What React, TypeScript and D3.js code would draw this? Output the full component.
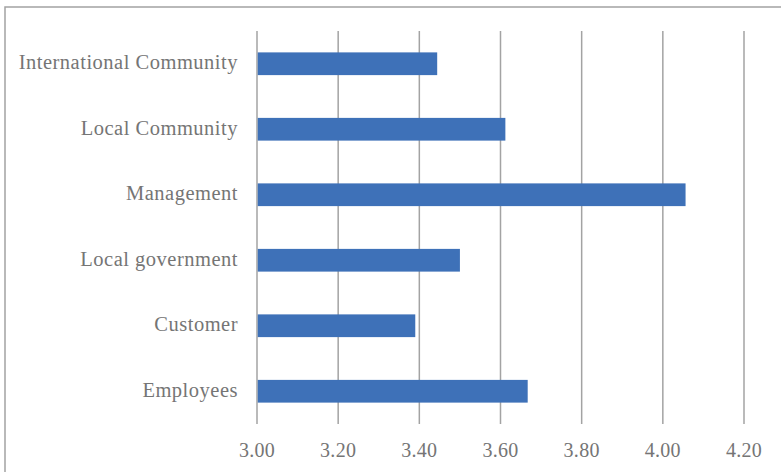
import React from "react";
import * as d3 from "d3";

const categories = [
  "International Community",
  "Local Community",
  "Management",
  "Local government",
  "Customer",
  "Employees",
];
const values = [3.444, 3.612, 4.056, 3.5, 3.39, 3.667];
const ticks = [3.0, 3.2, 3.4, 3.6, 3.8, 4.0, 4.2];

const W = 781;
const H = 472;
const plot = { left: 257, right: 744, top: 31, bottom: 424 };
const FONT = "'Liberation Serif', 'Times New Roman', serif";
const TEXT = "#757575";
const GRID = "#a3a3a3";
const BAR = "#3e71b8";

export default function App() {
  const x = d3.scaleLinear().domain([3.0, 4.2]).range([plot.left, plot.right]);
  const y = d3
    .scaleBand<string>()
    .domain(categories)
    .range([plot.top, plot.bottom])
    .paddingInner(0.653)
    .paddingOuter(0.3265);

  return (
    <svg
      width={W}
      height={H}
      style={{ position: "absolute", left: 0, top: 0, background: "#fff" }}
    >
      <rect x={5} y={7} width={900} height={600} fill="#fff" stroke={GRID} strokeWidth={1.5} />
      {ticks.map((t) => (
        <line
          key={t}
          x1={x(t)}
          x2={x(t)}
          y1={plot.top}
          y2={plot.bottom}
          stroke={GRID}
          strokeWidth={1.5}
        />
      ))}
      {categories.map((c, i) => (
        <rect
          key={c}
          x={x(3.0) + 0.75}
          y={y(c)}
          width={x(values[i]) - x(3.0) - 0.75}
          height={y.bandwidth()}
          fill={BAR}
        />
      ))}
      {categories.map((c) => (
        <text
          key={c}
          x={238}
          y={(y(c) ?? 0) + y.bandwidth() / 2}
          dy="0.26em"
          textAnchor="end"
          fontFamily={FONT}
          fontSize={20.5}
          letterSpacing={0.5}
          fill={TEXT}
        >
          {c}
        </text>
      ))}
      {ticks.map((t) => (
        <text
          key={t}
          x={x(t)}
          y={456.5}
          textAnchor="middle"
          fontFamily={FONT}
          fontSize={20}
          letterSpacing={0.3}
          fill={TEXT}
        >
          {d3.format(".2f")(t)}
        </text>
      ))}
    </svg>
  );
}
